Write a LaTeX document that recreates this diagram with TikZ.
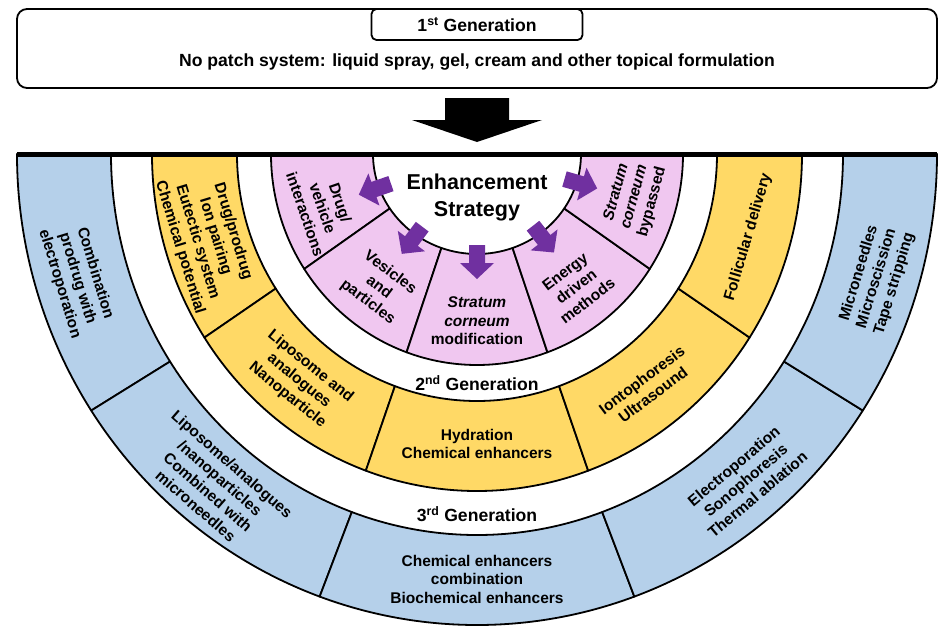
\documentclass[tikz,border=0pt]{standalone}
\usepackage{fontspec}
\setmainfont{Liberation Sans}
\definecolor{ringblue}{RGB}{181,208,234}
\definecolor{ringyellow}{RGB}{255,217,102}
\definecolor{ringpink}{RGB}{240,199,240}
\definecolor{arrowpurple}{RGB}{112,48,160}

\begin{document}
\begin{tikzpicture}[x=1pt, y=1pt, line join=round,
	lbl/.style={font=\fontsize{15.5}{18.5}\selectfont\bfseries, align=center},
	genlbl/.style={font=\fontsize{17.6}{21}\selectfont\bfseries},
	ring/.style={draw=black, line width=1.8}]

\useasboundingbox (-477,-478) rectangle (475,154);

\draw[line width=1.8, rounded corners=10] (-460,145) rectangle (460,66);
\node[genlbl, draw, fill=white, line width=1.8, rounded corners=5, minimum width=211, minimum height=31] (gen1) at (0,129.5) {1\textsuperscript{st} Generation};
\node[genlbl] (nopatch) at (0,92) {No patch system: liquid spray, gel, cream and other topical formulation};

\fill (-32,56) -- (32,56) -- (32,34) -- (65,34) -- (0,12) -- (-65,34) -- (-32,34) -- cycle;

\foreach \ri/\rj/\ro/\rp/\c in {104/100/206/211/ringpink, 240/247/325/337/ringyellow, 366/381/460/471/ringblue}
	\foreach \a/\b in {180/213, 213/250, 250/290, 290/327, 327/360}
		\filldraw[ring, fill=\c] ({\ri*cos(\a)},{\rj*sin(\a)}) arc[start angle=\a, end angle=\b, x radius=\ri, y radius=\rj] 
			-- ({\ro*cos(\b)},{\rp*sin(\b)}) arc[start angle=\b, end angle=\a, x radius=\ro, y radius=\rp] -- cycle;

\foreach \a in {199, 233, 270, 308, 344}
	\fill[arrowpurple, rotate=\a] (91,-8) -- (109,-8) -- (109,-17) -- (125,0) -- (109,17) -- (109,8) -- (91,8) -- cycle;

\node[font=\fontsize{21.5}{27}\selectfont\bfseries, align=center] (core) at (0,-43) {Enhancement\\Strategy};

\node[lbl, rotate=-71] (drugveh) at (199:163 and 167) {Drug/\\vehicle\\interactions};
\node[lbl, rotate=-37] (vesicles) at (233:163 and 167) {Vesicles\\and\\particles};
\node[lbl] (scmod) at (270:163 and 167) {\textit{Stratum}\\\textit{corneum}\\modification};
\node[lbl, rotate=37.5] (energy) at (307.5:163 and 167) {Energy\\driven\\methods};
\node[lbl, rotate=75] (scbyp) at (345:163 and 167) {\textit{Stratum}\\\textit{corneum}\\bypassed};

\node[lbl, rotate=-73] (drugpro) at (197:283 and 292) {Drug/prodrug\\Ion pairing\\Eutectic system\\Chemical potential};
\node[lbl, rotate=-39] (liposome) at (231:283 and 292) {Liposome and\\analogues\\Nanoparticle};
\node[lbl] (hydration) at (270:283 and 290) {Hydration\\Chemical enhancers};
\node[lbl, rotate=37] (ionto) at (307:283 and 292) {Iontophoresis\\Ultrasound};
\node[lbl, rotate=73.5] (follic) at (343.5:283 and 292) {Follicular delivery};

\node[lbl, rotate=-73] (combo) at (197:418 and 426) {Combination\\prodrug with\\electroporation};
\node[lbl, rotate=-41] (lipomicro) at (231:418 and 426) {Liposome/analogues\\/nanoparticles\\Combined with\\microneedles};
\node[lbl] (chemcomb) at (270:418 and 425) {Chemical enhancers\\combination\\Biochemical enhancers};
\node[lbl, rotate=40] (electro) at (310:418 and 426) {Electroporation\\Sonophoresis\\Thermal ablation};
\node[lbl, rotate=73] (microneedle) at (343:418 and 426) {Microneedles\\Microscission\\Tape stripping};

\node[genlbl] (gen2) at (0,-229) {2\textsuperscript{nd} Generation};
\node[genlbl] (gen3) at (0,-360) {3\textsuperscript{rd} Generation};

\draw[line width=5] (-460,0) -- (460,0);

\end{tikzpicture}
\end{document}
